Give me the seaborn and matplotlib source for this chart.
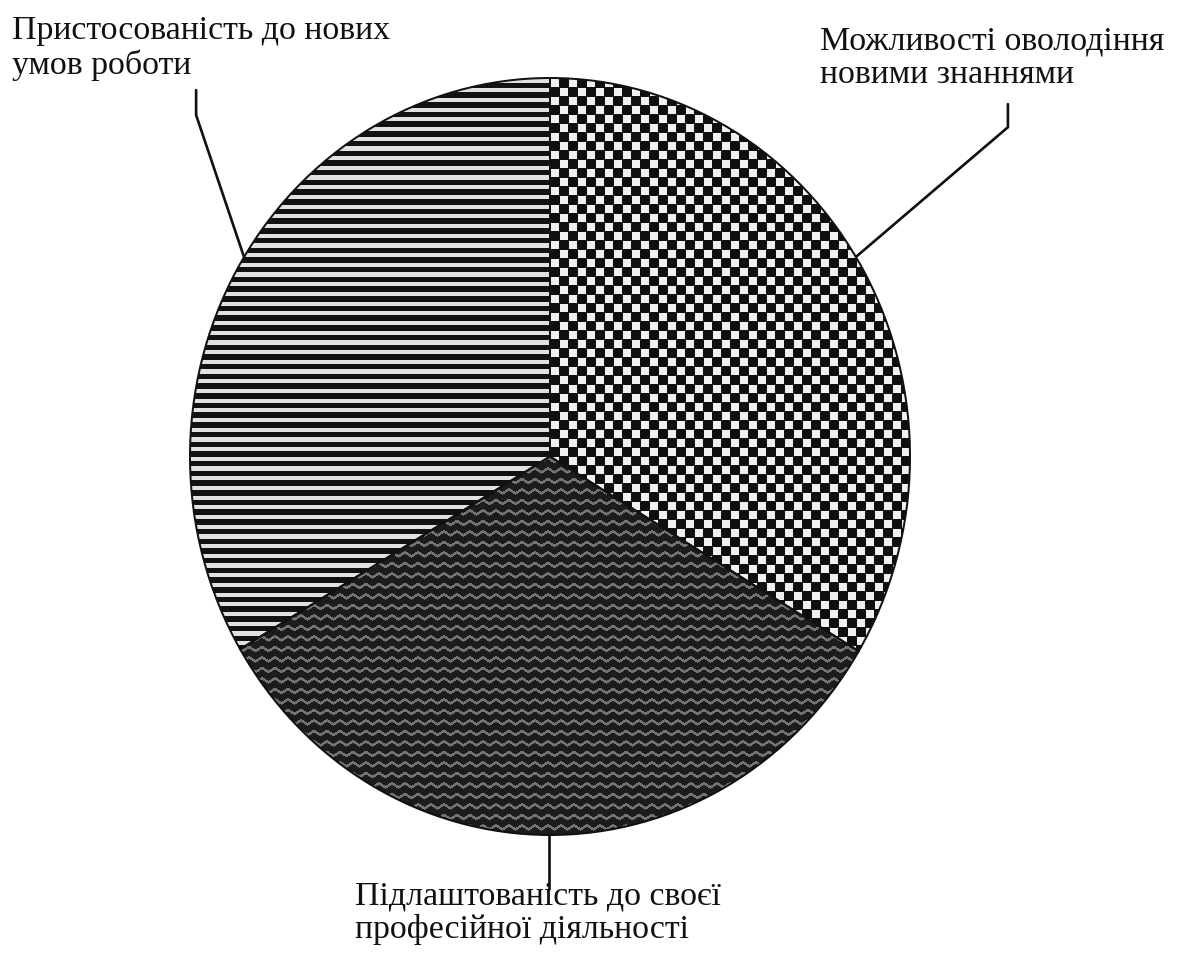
import numpy as np
import seaborn as sns
import matplotlib.pyplot as plt

# slice data (clockwise from the top)
labels = [
    "Можливості оволодіння\nновими знаннями",
    "Підлаштованість до своєї\nпрофесійної діяльності",
    "Пристосованість до нових\nумов роботи",
]
shares = [33.6, 32.9, 33.5]
patterns = ["checker", "zigzag", "stripes"]

# where the label text sits (figure pixels, top-left) and where the leader bends (axes data units)
label_px = [(820, 26), (355, 881), (12, 16)]
leader_nudge = [2.3, 0.0, -2.1]
leader_bend = [(1.272, 0.870, 0.931), (None, -1.02, -1.143), (-0.983, 0.902, 0.968)]

W, H, DPI = 1187, 953, 120

sns.set_theme(style="white")
plt.rcParams["font.family"] = ["Liberation Serif", "DejaVu Serif"]

fig = plt.figure(figsize=(W / DPI, H / DPI), dpi=DPI)
fig.patch.set_facecolor("white")
ax = fig.add_axes([190 / W, 1 - 835 / H, 720 / W, 757 / H])

wedges, _ = ax.pie(shares, startangle=90, counterclock=False, radius=1,
                   wedgeprops=dict(facecolor="none", edgecolor="#111111", linewidth=1.2))
for w in wedges:
    w.set_zorder(3)


def texture(kind, h=757, w=720):
    yy, xx = np.mgrid[0:h, 0:w].astype(float)
    if kind == "stripes":
        img = np.where((yy % 9.7) < 4.2, 225, 18)
    elif kind == "checker":
        c = 9.0
        i = np.floor(xx / c)
        j = np.floor(yy / c)
        fx, fy = xx % c, yy % c
        on = ((i + j) % 2 == 0) & (fx > 0.6) & (fx < 8.2) & (fy > 0.6) & (fy < 8.2)
        img = np.where(on, 240, 15)
    else:
        tri = np.abs(((xx / 13.0) % 1) - 0.5) * 2
        d = (yy - tri * 3.8) % 10.5
        img = np.where(d < 3.0, 115, 28)
    return img


for w, kind in zip(wedges, patterns):
    im = ax.imshow(texture(kind), cmap="gray", vmin=0, vmax=255, extent=(-1, 1, -1, 1),
                   aspect="auto", interpolation="nearest", zorder=1)
    im.set_clip_path(w)

ax.set_xlim(-1, 1)
ax.set_ylim(-1, 1)
ax.set_aspect("auto")
ax.set_axis_off()

# leader lines from wedge middles
for w, nudge, bend in zip(wedges, leader_nudge, leader_bend):
    mid = np.deg2rad((w.theta1 + w.theta2) / 2 + nudge)
    ex, ey = np.cos(mid), np.sin(mid)
    bx, by, ty = bend
    if bx is None:
        bx = ex
        xs, ys = [ex, bx], [ey, ty]
    else:
        xs, ys = [ex, bx, bx], [ey, by, ty]
    ax.plot(xs, ys, color="#111111", lw=1.6, clip_on=False, zorder=4)

for text, (px, py) in zip(labels, label_px):
    fig.text(px / W, 1 - py / H, text, ha="left", va="top", fontsize=20.3,
             linespacing=1.12, color="#111111")

fig.savefig("out.png", dpi=DPI)
